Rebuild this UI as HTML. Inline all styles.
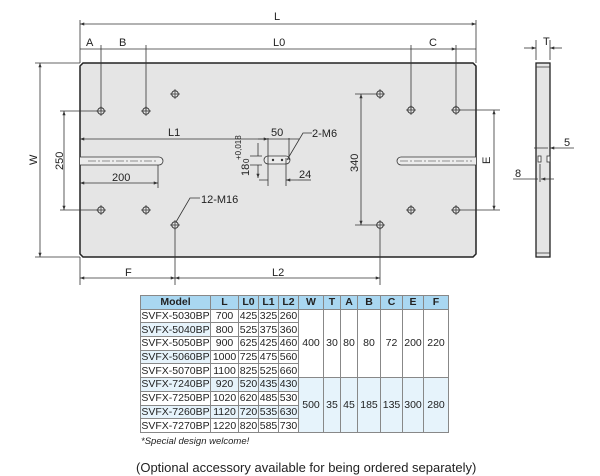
<!DOCTYPE html>
<html><head><meta charset="utf-8"><style>
body{margin:0;background:#fff;width:600px;height:476px;overflow:hidden}
svg{display:block}
text{font-family:"Liberation Sans",sans-serif;fill:#222}
.t td{border:1px solid #888;padding:0;text-align:center;font:10.5px "Liberation Sans",sans-serif;color:#222;height:12.7px;white-space:nowrap;overflow:hidden}
</style></head><body>
<div style="position:relative;width:600px;height:476px">
<svg width="600" height="476" viewBox="0 0 600 476" style="position:absolute;left:0;top:0">
<defs>
<marker id="a" viewBox="0 0 8 6" refX="8" refY="3" markerWidth="6" markerHeight="4" orient="auto-start-reverse"><path d="M0,0L8,3L0,6z" fill="#333"/></marker>
<g id="h"><circle r="3.3" fill="none" stroke="#333" stroke-width="1"/><path d="M-5,0H5M0,-5V5" stroke="#333" stroke-width="0.7"/></g>
</defs>
<g stroke="#333" stroke-width="0.8" fill="none">
<path d="M83,63H473L476,66V254L473,257H83L80,254V66Z" fill="#e5e5e5" stroke="#222" stroke-width="1.5"/>
<path d="M80,157H159A4,4 0 0 1 159,165H80" fill="#ececec"/>
<path d="M88,161H158" stroke-dasharray="8,2,2,2" stroke-width="0.6"/>
<path d="M476,157H401A4,4 0 0 0 401,165H476" fill="#ececec"/>
<path d="M400,161H472" stroke-dasharray="8,2,2,2" stroke-width="0.6"/>
<path d="M268,156H286A4,4 0 0 1 286,164H268A4,4 0 0 1 268,156Z" fill="#ececec"/>
<path d="M80,20V63M476,20V63M101,45V111M146,45V111M411,45V110M456,45V110"/>
<path d="M35,63H80M35,257H80M60,111H97M60,210H97"/>
<path d="M80,257V285M175,229V285M380,229V285"/>
<path d="M460,110H500M460,210H500M355,94H375M355,225H375"/>
<path d="M158,165V188M268,158V186M286,158V186M268,160V138M289,160V138"/>
<path d="M250,165H262M250,156H262"/>
<path d="M80,24H476" marker-start="url(#a)" marker-end="url(#a)"/>
<path d="M80,49H101M101,49H146M146,49H411M411,49H456" marker-end="url(#a)"/>
<path d="M456,49H476"/>
<path d="M40,63V257" marker-start="url(#a)" marker-end="url(#a)"/>
<path d="M64,111V210" marker-start="url(#a)" marker-end="url(#a)"/>
<path d="M80,139H268" marker-start="url(#a)" marker-end="url(#a)"/>
<path d="M80,183H158" marker-start="url(#a)" marker-end="url(#a)"/>
<path d="M80,278H175" marker-start="url(#a)" marker-end="url(#a)"/>
<path d="M175,278H380" marker-start="url(#a)" marker-end="url(#a)"/>
<path d="M494,110V210" marker-start="url(#a)" marker-end="url(#a)"/>
<path d="M361,94V225" marker-start="url(#a)" marker-end="url(#a)"/>
<path d="M258,139H268M299,139H289M268,139H289"/>
<path d="M259,180H268M298,180H286" marker-end="url(#a)"/>
<path d="M298,180H311"/>
<path d="M258,143V156M258,165V178" marker-end="url(#a)"/>
<path d="M287,160L303,133H312M176,222L190,198H200"/>
<rect x="536" y="63" width="14" height="194" fill="#e5e5e5" stroke="#222" stroke-width="1.3"/>
<path d="M536,67H550M536,253H550"/>
<rect x="538" y="156" width="3" height="6" fill="#fff"/><rect x="547" y="156" width="3" height="6" fill="#fff"/>
<path d="M536,40V60M550,40V60"/>
<path d="M524,48H536" marker-end="url(#a)"/><path d="M562,48H550" marker-end="url(#a)"/>
<path d="M534,148H548M574,148H550" marker-end="url(#a)"/>
<path d="M513,179H538M554,179H541" marker-end="url(#a)"/>
<path d="M540,164V182"/>
</g>
<g>
<use href="#h" x="101" y="111"/><use href="#h" x="146" y="111"/><use href="#h" x="175" y="94"/>
<use href="#h" x="101" y="210"/><use href="#h" x="146" y="210"/><use href="#h" x="175" y="225"/>
<use href="#h" x="380" y="94"/><use href="#h" x="411" y="110"/><use href="#h" x="456" y="110"/>
<use href="#h" x="380" y="225"/><use href="#h" x="411" y="210"/><use href="#h" x="456" y="210"/>
<circle cx="273" cy="160" r="1.2" fill="#333"/><circle cx="282" cy="160" r="1.2" fill="#333"/>
</g>
<g font-size="11">
<text x="274" y="20">L</text>
<text x="86" y="46">A</text><text x="119" y="46">B</text><text x="273" y="46">L0</text><text x="429" y="46">C</text>
<text x="168" y="136">L1</text><text x="112" y="181">200</text><text x="271" y="136">50</text>
<text x="312" y="137">2-M6</text><text x="299" y="178">24</text><text x="201" y="203">12-M16</text>
<text x="125" y="276">F</text><text x="272" y="276">L2</text>
<text x="543" y="45">T</text><text x="564" y="146">5</text><text x="515" y="177">8</text>
<text transform="translate(37,165) rotate(-90)">W</text>
<text transform="translate(63,170) rotate(-90)">250</text>
<text transform="translate(358,172) rotate(-90)">340</text>
<text transform="translate(490,164) rotate(-90)">E</text>
<text transform="translate(249,176) rotate(-90)">18</text>
<text font-size="8" transform="translate(249,163) rotate(-90)">0</text>
<text font-size="8" transform="translate(241,160) rotate(-90)">+0,018</text>
<text x="141" y="444" font-size="9.5" font-style="italic">*Special design welcome!</text>
<text x="136" y="472" font-size="13">(Optional accessory available for being ordered separately)</text>
</g>
</svg>
<table class="t" style="position:absolute;left:140px;top:295px;width:308px;border-collapse:collapse;table-layout:fixed">
<colgroup><col style="width:70px"><col style="width:28px"><col style="width:20px"><col style="width:20px"><col style="width:20px"><col style="width:25px"><col style="width:17px"><col style="width:17px"><col style="width:23px"><col style="width:22px"><col style="width:21px"><col style="width:25px"></colgroup>
<tr style="background:#a9d7f1"><td><b>Model</b></td><td><b>L</b></td><td><b>L0</b></td><td><b>L1</b></td><td><b>L2</b></td><td><b>W</b></td><td><b>T</b></td><td><b>A</b></td><td><b>B</b></td><td><b>C</b></td><td><b>E</b></td><td><b>F</b></td></tr>
<tr><td>SVFX-5030BP</td><td>700</td><td>425</td><td>325</td><td>260</td><td rowspan="5">400</td><td rowspan="5">30</td><td rowspan="5">80</td><td rowspan="5">80</td><td rowspan="5">72</td><td rowspan="5">200</td><td rowspan="5">220</td></tr>
<tr><td style="background:#e6f3fb">SVFX-5040BP</td><td>800</td><td>525</td><td>375</td><td>360</td></tr>
<tr><td>SVFX-5050BP</td><td>900</td><td>625</td><td>425</td><td>460</td></tr>
<tr><td style="background:#e6f3fb">SVFX-5060BP</td><td>1000</td><td>725</td><td>475</td><td>560</td></tr>
<tr><td>SVFX-5070BP</td><td>1100</td><td>825</td><td>525</td><td>660</td></tr>
<tr style="background:#e6f3fb"><td>SVFX-7240BP</td><td>920</td><td>520</td><td>435</td><td>430</td><td rowspan="4">500</td><td rowspan="4">35</td><td rowspan="4">45</td><td rowspan="4">185</td><td rowspan="4">135</td><td rowspan="4">300</td><td rowspan="4">280</td></tr>
<tr><td style="background:#fff">SVFX-7250BP</td><td style="background:#fff">1020</td><td style="background:#fff">620</td><td style="background:#fff">485</td><td style="background:#fff">530</td></tr>
<tr style="background:#e6f3fb"><td>SVFX-7260BP</td><td>1120</td><td>720</td><td>535</td><td>630</td></tr>
<tr><td style="background:#fff">SVFX-7270BP</td><td style="background:#fff">1220</td><td style="background:#fff">820</td><td style="background:#fff">585</td><td style="background:#fff">730</td></tr>
</table>
</div>
</body></html>
